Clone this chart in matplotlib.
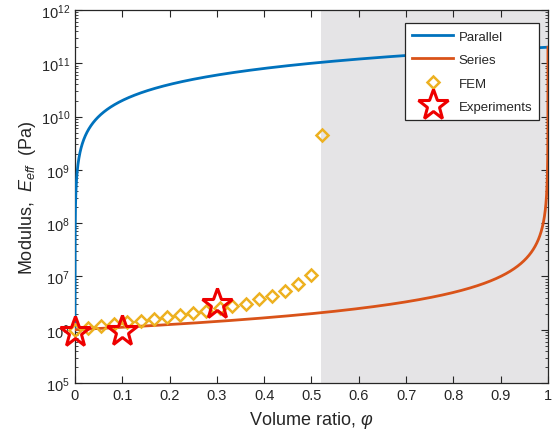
import numpy as np
import matplotlib
matplotlib.use("Agg")
import matplotlib.pyplot as plt
from matplotlib.ticker import LogLocator, FixedLocator

plt.rcParams['font.family'] = ['Liberation Sans', 'DejaVu Sans']
plt.rcParams['mathtext.fontset'] = 'custom'
plt.rcParams['mathtext.rm'] = 'Liberation Sans'
plt.rcParams['mathtext.it'] = 'Liberation Sans:italic'

# Constituent moduli (Pa) for the rule-of-mixtures bounds
E_stiff = 2.0e11
E_soft = 1.0e6

# FEM results
fem_phi = [0.0, 0.028, 0.056, 0.083, 0.111, 0.139, 0.167, 0.194, 0.222, 0.25,
           0.278, 0.306, 0.333, 0.361, 0.389, 0.417, 0.444, 0.472, 0.5, 0.523]
fem_E = [1.0e6, 1.06e6, 1.16e6, 1.28e6, 1.41e6, 1.47e6, 1.59e6, 1.71e6, 1.9e6, 2.1e6,
         2.27e6, 2.5e6, 2.75e6, 3.1e6, 3.8e6, 4.35e6, 5.4e6, 7.2e6, 1.06e7, 4.5e9]

# Experiments
exp_phi = [0.0, 0.1, 0.3]
exp_E = [9.0e5, 9.6e5, 3.0e6]

# Shaded region
shade_start = 0.52

x_ticks = [0, 0.1, 0.2, 0.3, 0.4, 0.5, 0.6, 0.7, 0.8, 0.9, 1]
x_ticklabels = ['0', '0.1', '0.2', '0.3', '0.4', '0.5', '0.6', '0.7', '0.8', '0.9', '1']

phi = np.concatenate([np.linspace(0, 0.99, 3000), np.linspace(0.99, 1.0, 3000)])
E_par = phi * E_stiff + (1 - phi) * E_soft
E_ser = 1.0 / (phi / E_stiff + (1 - phi) / E_soft)

txt = '#262626'
fig = plt.figure(figsize=(5.58, 4.39), dpi=100)
ax = fig.add_axes([0.1344, 0.1253, 0.8476, 0.8497])

ax.axvspan(shade_start, 1.0, color='#e5e4e6', lw=0, zorder=0)
ax.plot(phi, E_par, color='#0072BD', lw=2, label='Parallel', zorder=3)
ax.plot(phi, E_ser, color='#D95319', lw=2, label='Series', zorder=3)
ax.plot(fem_phi, fem_E, linestyle='none', marker='D', markersize=6,
        markerfacecolor='none', markeredgecolor='#EDB120', markeredgewidth=1.8,
        label='FEM', zorder=4, clip_on=False)
ax.plot(exp_phi, exp_E, linestyle='none', marker='*', markersize=23,
        markerfacecolor='none', markeredgecolor='#ee0000', markeredgewidth=2.2,
        label='Experiments', zorder=5, clip_on=False)

ax.set_yscale('log')
ax.set_xlim(0, 1)
ax.set_ylim(1e5, 1e12)
ax.xaxis.set_major_locator(FixedLocator(x_ticks))
ax.set_xticklabels(x_ticklabels)
ax.yaxis.set_major_locator(LogLocator(base=10, numticks=20))
ax.yaxis.set_minor_locator(LogLocator(base=10, subs=np.arange(2, 10), numticks=20))

ax.tick_params(which='both', direction='in', top=True, right=True, colors=txt,
               labelsize=10.5, labelcolor=txt)
ax.tick_params(which='major', length=5, width=0.8)
ax.tick_params(which='minor', length=2.5, width=0.6)
for s in ax.spines.values():
    s.set_color(txt)
    s.set_linewidth(0.9)

ax.set_xlabel(r'Volume ratio, $\varphi$', fontsize=13, color=txt, labelpad=5)
ax.set_ylabel(r'Modulus,  $E_{eff}$  (Pa)', fontsize=13, color=txt, labelpad=2)

leg = ax.legend(loc='upper left', bbox_to_anchor=(0.726, 0.945),
                bbox_transform=fig.transFigure, fontsize=9.5, frameon=True,
                fancybox=False, framealpha=1, edgecolor=txt, handlelength=3.1,
                borderpad=0.55, labelspacing=0.85, handletextpad=0.4,
                borderaxespad=0)
leg.get_frame().set_linewidth(0.9)
for t in leg.get_texts():
    t.set_color(txt)

fig.savefig('out.png', dpi=100)
